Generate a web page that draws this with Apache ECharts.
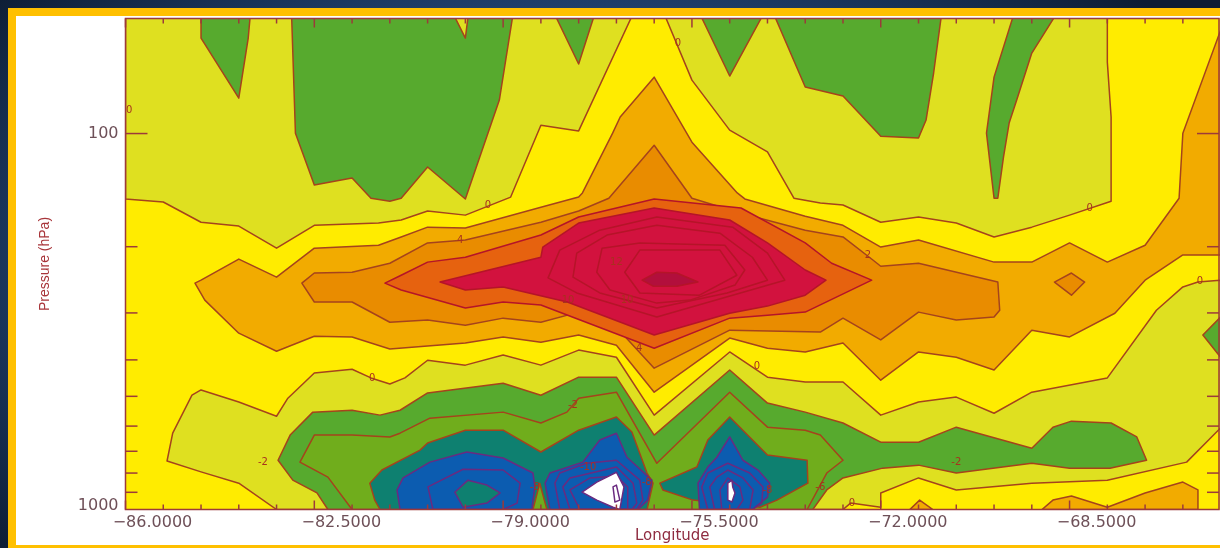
<!DOCTYPE html>
<html><head><meta charset="utf-8">
<style>
html,body{margin:0;padding:0;width:1220px;height:548px;overflow:hidden;background:radial-gradient(ellipse 760px 420px at 560px 270px,#2f5488 0%,#234676 55%,#0d1c33 100%);}
#frame{position:absolute;left:8px;top:8px;width:1212px;height:540px;box-sizing:border-box;border-style:solid;border-color:#ffc000;border-width:8px 0 3px 8px;background:#fff;}
#chart{position:absolute;left:0;top:0;width:1220px;height:548px;filter:blur(0.55px);}
</style>
<script src="https://cdn.jsdelivr.net/npm/echarts@6/dist/echarts.min.js"></script>
</head><body><div id="frame"></div><div id="chart"></div>
<script>
// Axis values
const lonTicks=[-86,-85.3,-84.6,-83.9,-83.2,-82.5,-81.8,-81.1,-80.4,-79.7,-79,-78.3,-77.6,-76.9,-76.2,-75.5,-74.8,-74.1,-73.4,-72.7,-72,-71.3,-70.6,-69.9,-69.2,-68.5,-67.8,-67.1,-66.4];
const lonLabels=[-86,-82.5,-79,-75.5,-72,-68.5];
const pressureTicks=[100,200,300,400,500,600,700,800,900];
const pressureLabels=[100,1000];
// Contour outlines: [analysis column (0.7 deg steps from -86), 1000*log10(hPa)]
const plotBase=[[0,1690],[29,1690],[29,3000],[0,3000]];
const ygTop=[[0,1690],[0,2174],[1,2182],[2,2236],[3,2246],[4,2305],[5,2244],[6.7,2238],[7.3,2230],[8,2206],[9,2217],[9.4,2201],[10.2,2169],[11,1978],[12,1993],[13.4,1690],[14.3,1690],[15,1858],[16,1991],[17,2049],[17.7,2172],[18.4,2185],[19,2190],[20,2236],[21,2222],[22,2238],[23,2275],[24,2249],[25,2217],[26.1,2180],[26.1,1956],[26,1810],[26,1690]];
const greenTop1=[[2,1690],[2,1746],[3,1906],[3.25,1746],[3.3,1690]];
const greenTop2=[[4.4,1690],[4.5,1999],[5,2137],[6,2118],[6.5,2172],[7,2180],[7.3,2172],[8,2089],[9,2174],[9.9,1911],[10.25,1690],[9.07,1690],[9,1746],[8.72,1690]];
const greenTop3=[[11.4,1690],[12,1815],[12.4,1690]];
const greenTop4=[[15.25,1690],[16,1847],[16.85,1690]];
const greenTop5=[[17.2,1690],[18,1876],[19,1900],[20,2007],[21,2012],[21.2,1964],[21.4,1839],[21.6,1690]];
const greenTop6=[[23.5,1690],[23,1850],[22.8,1999],[23,2172],[23.1,2172],[23.25,2063],[23.4,1972],[23.6,1911],[24,1786],[24.6,1690]];
const ygLow=[[1.76,2696],[2,2682],[3,2714],[4,2752],[4.3,2704],[5,2637],[6,2627],[6.5,2650],[7,2666],[7.4,2650],[8,2603],[9,2616],[10,2589],[11,2616],[12,2576],[13,2595],[14,2749],[16,2581],[17,2648],[18,2661],[19,2661],[20,2749],[21,2714],[22,2701],[23,2744],[24,2688],[26,2650],[27.3,2470],[28,2408],[28.4,2395],[29,2390],[29,2783],[28.1,2874],[26,2922],[24,2930],[22,2948],[21,2916],[20,2956],[20,2994],[19.2,2983],[19,3000],[4,3000],[3,2930],[2,2900],[1.1,2871],[1.25,2797]];
const greenEdge=[[28.53,2536],[29,2488],[29,2595]];
const oyMain=[[1.84,2398],[2,2390],[3,2334],[4,2382],[5,2305],[6.7,2297],[7.3,2275],[8,2249],[9,2251],[11,2196],[12,2169],[12.1,2158],[12.9,1999],[13.1,1956],[14,1850],[15,2023],[16.2,2158],[16.4,2174],[18,2220],[19,2244],[20,2302],[21,2283],[23,2342],[24,2342],[25,2291],[26,2342],[27,2297],[27.9,2172],[28,1999],[29,1725],[29,2323],[28,2323],[27,2390],[26.2,2478],[25,2541],[24,2523],[23,2629],[22,2595],[21,2581],[20,2656],[19,2557],[18,2581],[17,2571],[16,2544],[14,2688],[13,2563],[12,2536],[11,2555],[10,2541],[9,2557],[7,2573],[6,2541],[5,2539],[4,2579],[3,2531],[2.1,2443]];
const oyBump=[[24.27,3000],[24.56,2975],[25.05,2964],[26,2994],[27,2956],[28,2927],[28.4,2948],[28.4,3000]];
const oySmall=[[20.77,3000],[21.03,2975],[21.38,3000]];
const orangeMain=[[4.67,2398],[5,2371],[6,2369],[7,2345],[8,2291],[9,2283],[11,2236],[12,2206],[12.8,2172],[14,2031],[15,2172],[16.3,2212],[18,2257],[19,2275],[19.8,2337],[20,2353],[21,2345],[23.1,2395],[23.15,2470],[23,2488],[22,2496],[21,2475],[20,2549],[19,2491],[18.4,2528],[16,2523],[14,2624],[13,2515],[12,2475],[11,2502],[10,2491],[9,2510],[8,2496],[7,2502],[6,2448],[5,2448]];
const orangeDiamond=[[25.05,2371],[25.4,2395],[25.05,2430],[24.6,2395]];
const deepOrange=[[6.87,2398],[7.3,2377],[8,2342],[9,2329],[11,2270],[12,2222],[14,2174],[16.3,2198],[18,2291],[18.7,2345],[19.76,2390],[18,2475],[17,2483],[16,2491],[14,2571],[11,2456],[10,2448],[9,2464],[7.3,2416]];
const crimson=[[8.33,2395],[11,2329],[11.05,2302],[12,2238],[14,2198],[16,2230],[17,2291],[18,2363],[18.55,2390],[18,2430],[17,2459],[16,2478],[14,2536],[11.7,2448],[10,2408],[9,2416]];
const ringA=[[11.5,2310],[12.56,2257],[14.07,2222],[16.08,2249],[17,2318],[17.46,2390],[14.07,2488],[11.95,2424],[11.19,2384]];
const ringB=[[11.95,2318],[12.75,2270],[14.07,2244],[15.74,2265],[16.6,2329],[17,2390],[15.93,2424],[14.07,2464],[12.56,2424],[11.85,2382]];
const ringC=[[12.48,2369],[12.62,2305],[13.62,2291],[15.87,2297],[16.4,2363],[16.14,2403],[14.95,2443],[14.07,2451],[12.83,2416]];
const ringD=[[13.22,2369],[13.62,2310],[15.74,2310],[16.19,2377],[15.2,2430],[13.62,2424]];
const crimsonCore=[[13.68,2390],[14.07,2369],[14.6,2371],[15.16,2395],[14.6,2406],[13.97,2406]];
const greenLow=[[4.04,2869],[4.36,2802],[4.96,2741],[6,2736],[6.74,2749],[7.27,2736],[8,2690],[10,2664],[11,2696],[12,2648],[13,2648],[14,2802],[16,2629],[17,2717],[18,2741],[19,2770],[20,2821],[21,2821],[22,2781],[24,2837],[24.56,2781],[25.05,2765],[26.1,2770],[26.78,2807],[27.04,2869],[26.07,2890],[25,2890],[24,2877],[22,2903],[21,2882],[20.05,2890],[19,2916],[18.57,2948],[18.2,3000],[5.36,3000],[5.07,2956],[4.43,2922]];
const olive=[[4.62,2874],[5,2802],[6,2802],[7,2807],[7.27,2797],[8.06,2757],[10,2741],[11,2770],[11.69,2741],[12,2704],[13,2688],[14.07,2877],[16,2688],[17,2781],[18,2789],[18.4,2802],[19,2869],[18.57,2903],[18.05,3000],[6,3000],[5.36,2914]];
const tealA=[[6.47,2930],[6.79,2895],[7.8,2842],[8,2823],[9,2789],[10,2789],[11,2847],[12,2789],[13,2754],[13.41,2794],[13.81,2903],[13.97,2930],[13.81,3000],[6.74,3000],[6.6,2975]];
const tealB=[[14.15,2930],[15.13,2887],[15.42,2815],[16,2754],[17,2855],[18.05,2869],[18.07,2930],[17.25,2975],[16.8,2994],[15.03,2975],[14.23,2948]];
const oliveGap=[[10.79,3000],[10.97,2930],[11.16,3000]];
const blueL=[[7.19,2948],[7.35,2916],[8.06,2874],[9.04,2847],[10,2863],[10.79,2903],[10.84,2940],[10.76,3000],[7.27,3000]];
const ringL1=[[8.01,2940],[8.94,2893],[10,2895],[10.45,2930],[10.37,2983],[10,3000],[8.14,3000]];
const coreL=[[8.72,2954],[9.07,2922],[9.57,2935],[9.92,2956],[9.57,2983],[8.94,2994]];
const blueM=[[11.11,2930],[11.24,2903],[12.11,2874],[12.56,2815],[13,2797],[13.28,2861],[13.94,2922],[13.83,2975],[13.57,3000],[11.24,3000]];
const ringM1=[[11.37,2930],[11.5,2903],[12.2,2877],[13,2869],[13.62,2922],[13.7,2975],[13.54,3000],[11.5,3000]];
const ringM2=[[11.58,2940],[11.77,2916],[13,2887],[13.44,2930],[13.54,2983],[13.41,3000],[11.77,3000]];
const ringM3=[[11.77,2948],[12.3,2916],[13,2911],[13.3,2940],[13.3,3000],[12.03,3000]];
const whiteM=[[12.09,2954],[12.48,2927],[13,2901],[13.2,2940],[13.09,3000],[12.91,2994],[12.48,2975]];
const ringM4=[[12.91,2940],[13,2935],[13.09,2975],[12.96,2980]];
const blueR=[[15.16,2930],[15.42,2887],[15.66,2861],[16,2807],[16.35,2869],[16.75,2895],[17.06,2930],[17,2967],[16.6,3000],[15.2,3000]];
const ringR1=[[15.26,2940],[15.42,2903],[15.95,2877],[16.53,2903],[16.88,2940],[16.85,2983],[16.6,3000],[15.42,3000]];
const ringR2=[[15.47,2940],[15.66,2914],[15.95,2895],[16.35,2916],[16.62,2948],[16.53,3000],[15.6,3000]];
const ringR3=[[15.74,2948],[15.95,2916],[16.27,2940],[16.35,2975],[16.19,3000],[15.79,3000]];
const whiteR=[[15.95,2930],[16.06,2922],[16.08,2940],[16.14,2956],[16.06,2980],[15.95,2975]];
const contourLabels=[['0',9.6,2190],['0',14.63,1759],['0',25.53,2198],['0',6.53,2650],['0',16.72,2619],['0',28.45,2392],['0',19.24,2983],['0',0.1,1938],['4',8.86,2283],['12',13,2342],['10',11.72,2443],['10',13.28,2443],['-2',3.64,2874],['-2',11.85,2722],['-2',22,2874],['2',19.66,2323],['4',13.6,2571],['-8',10.84,2940],['-8',13.8,2927],['-8',17,2948],['-6',18.4,2940],['-10',12.25,2887]];

// Styles
const C={base:'#ffec00',yg:'#dfe020',green:'#57aa2e',oy:'#f2ab00',orange:'#e98c00',deep:'#e6620f',crimson:'#d2123e',core:'#b20f3c',olive:'#70ad1c',teal:'#0e8070',blue:'#0c5cb0',white:'#ffffff',none:'none'};
const LB='#a5431c',LR='#b51428',LP='#6a2a80';
const layers=[
 [plotBase,C.base,C.base],
 [ygTop,C.yg,LB],[greenTop1,C.green,LB],[greenTop2,C.green,LB],[greenTop3,C.green,LB],[greenTop4,C.green,LB],[greenTop5,C.green,LB],[greenTop6,C.green,LB],
 [ygLow,C.yg,LB],[greenEdge,C.green,LB],[oyMain,C.oy,LB],[oyBump,C.oy,LB],[oySmall,C.oy,LB],
 [orangeMain,C.orange,LB],[orangeDiamond,C.orange,LB],[deepOrange,C.deep,LR],[crimson,C.crimson,LR],
 [ringA,C.none,LR],[ringB,C.none,LR],[ringC,C.none,LR],[ringD,C.none,LR],[crimsonCore,C.core,LR],
 [greenLow,C.green,LB],[olive,C.olive,LB],[tealA,C.teal,LB],[tealB,C.teal,LB],[oliveGap,C.olive,LB],
 [blueL,C.blue,LP],[ringL1,C.none,LP],[coreL,C.teal,LP],
 [blueM,C.blue,LP],[ringM1,C.none,LP],[ringM2,C.none,LP],[ringM3,C.none,LP],[whiteM,C.white,LP],[ringM4,C.none,LP],
 [blueR,C.blue,LP],[ringR1,C.none,LP],[ringR2,C.none,LP],[ringR3,C.none,LP],[whiteR,C.white,LP]
];
const lonOf=k=>-86+0.7*k, pOf=l=>Math.pow(10,l/1000);
const AX='#9c3a3a', TXT='#6e5058';
const P_MIN=pOf(1694), P_MAX=1000, LON_MAX=-65.73;

const tickData=[];
lonTicks.forEach((v,i)=>tickData.push({value:[v,100],kind:'x',major:i%5===0}));
pressureTicks.forEach(v=>tickData.push({value:[-86,v],kind:'y',major:v===100}));
tickData.push({value:[-86,100],kind:'frame'});

const chart=echarts.init(document.getElementById('chart'),null,{renderer:'canvas',width:1220,height:548});
chart.setOption({
 animation:false,backgroundColor:'transparent',
 grid:{left:125.5,right:1,top:18.5,bottom:38.5,containLabel:false,outerBoundsMode:'none'},
 xAxis:{type:'value',min:-86,max:LON_MAX,interval:3.5,name:'Longitude',nameLocation:'middle',nameGap:19,nameMoveOverlap:false,
  nameTextStyle:{color:'#8f2c40',fontFamily:'DejaVu Sans',fontSize:15},
  splitLine:{show:false},axisLine:{show:false},axisTick:{show:false},
  axisLabel:{customValues:lonLabels,color:TXT,fontFamily:'DejaVu Sans',fontSize:16,margin:5,padding:[0,0,0,54],
   formatter:v=>'\u2212'+Math.abs(v).toFixed(4)}},
 yAxis:{type:'log',logBase:10,min:P_MIN,max:P_MAX,inverse:true,name:'Pressure (hPa)',nameLocation:'middle',nameGap:73,nameMoveOverlap:false,
  nameTextStyle:{color:'#a8353a',fontFamily:'Liberation Sans',fontSize:14},
  splitLine:{show:false},axisLine:{show:false},axisTick:{show:false},minorTick:{show:false},
  axisLabel:{customValues:pressureLabels,color:TXT,fontFamily:'DejaVu Sans',fontSize:16,margin:7,
   formatter:v=>Math.round(v)===1000?'{up|1000}':String(Math.round(v)),
   rich:{up:{color:TXT,fontFamily:'DejaVu Sans',fontSize:16,padding:[0,0,7,0]}}}},
 series:[
 {type:'custom',coordinateSystem:'cartesian2d',silent:true,clip:true,z:2,
  data:layers.map((l,i)=>[-86,100,i]),
  renderItem:(p,api)=>{
   const l=layers[api.value(2)];
   const pts=l[0].map(v=>api.coord([lonOf(v[0]),pOf(v[1])]));
   return {type:'polygon',shape:{points:pts},style:{fill:l[1]==='none'?null:l[1],stroke:l[2],lineWidth:1.5,lineJoin:'round'}};
  }},
 {type:'custom',coordinateSystem:'cartesian2d',silent:true,clip:false,z:3,
  data:contourLabels.map((l,i)=>[lonOf(l[1]),pOf(l[2]),i]),
  renderItem:(p,api)=>{
   const l=contourLabels[api.value(2)];
   const c=api.coord([api.value(0),api.value(1)]);
   return {type:'text',x:c[0],y:c[1],style:{text:l[0],fill:'#a8321e',font:'10px "DejaVu Sans"',align:'center',verticalAlign:'middle'}};
  }},
 {type:'custom',coordinateSystem:'cartesian2d',silent:true,clip:false,z:4,
  data:tickData,
  renderItem:(p,api)=>{
   const d=tickData[p.dataIndex], a=p.coordSys, s={stroke:AX,lineWidth:1.5,fill:null};
   const L=a.x,R=a.x+a.width,T=a.y,B=a.y+a.height;
   if(d.kind==='frame') return {type:'rect',shape:{x:L,y:T,width:a.width,height:a.height},style:s};
   const c=api.coord([api.value(0),api.value(1)]);
   if(d.kind==='x'){
    const len=d.major?9:5;
    return {type:'group',children:[
     {type:'line',shape:{x1:c[0],y1:B,x2:c[0],y2:B-len},style:s},
     {type:'line',shape:{x1:c[0],y1:T,x2:c[0],y2:T+len},style:s}]};
   }
   const len=d.major?22:12;
   return {type:'group',children:[
    {type:'line',shape:{x1:L,y1:c[1],x2:L+len,y2:c[1]},style:s},
    {type:'line',shape:{x1:R,y1:c[1],x2:R-len,y2:c[1]},style:s}]};
  }}
 ]
});
</script></body></html>
